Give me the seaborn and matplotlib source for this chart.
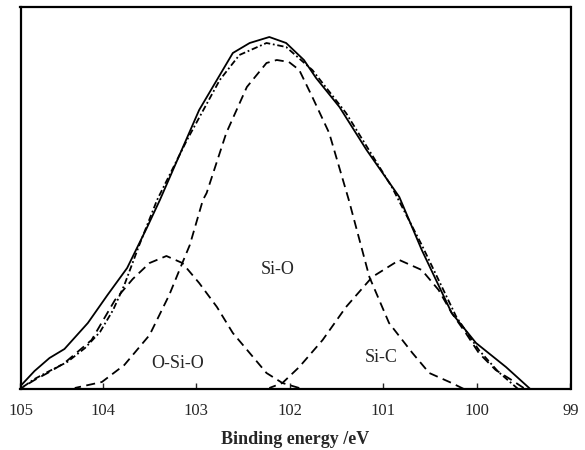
from matplotlib import pyplot as plt
import pandas as pd
import seaborn as sns

sns.set_style("ticks")
plt.rcParams['font.family'] = ['Liberation Serif', 'DejaVu Serif']

# binding energy (eV) / intensity (a.u.)

# measured spectrum (solid)
exp_be = [104.88, 104.73, 104.57, 104.41, 104.16, 103.95, 103.74, 103.53, 103.39, 103.18,
          102.97, 102.61, 102.43, 102.22, 102.04, 101.85, 101.72, 101.47, 101.18, 100.83,
          100.59, 100.27, 100.01, 99.69, 99.43]
exp_int = [3, 18, 31, 40, 66, 94, 121, 161, 189, 234,
           279, 336, 346, 352, 346, 329, 311, 282, 239, 192,
           139, 76, 46, 22, 0]

# fitted envelope (dash-dot)
fit_be = [104.87, 104.73, 104.57, 104.38, 104.19, 104.03, 103.89, 103.77, 103.61, 103.42,
          103.10, 102.75, 102.54, 102.25, 102.04, 101.76, 101.40, 100.91, 100.59, 100.22,
          99.98, 99.77, 99.56]
fit_int = [1, 10, 18, 27, 41, 57, 79, 104, 144, 189,
           249, 309, 334, 346, 342, 319, 276, 202, 144, 72,
           39, 17, 0]

# O-Si-O component
osio_be = [104.87, 104.73, 104.59, 104.41, 104.12, 103.87, 103.68, 103.50, 103.32, 103.15,
           102.97, 102.78, 102.61, 102.43, 102.25, 102.08, 101.90]
osio_int = [1, 9, 16, 26, 49, 89, 110, 126, 133, 126,
            106, 82, 56, 36, 16, 6, 1]

# Si-O component
sio_be = [104.30, 104.01, 103.77, 103.50, 103.29, 103.15, 103.07, 102.93, 102.89, 102.68,
          102.46, 102.25, 102.14, 102.01, 101.90, 101.76, 101.58, 101.37, 101.15, 100.94,
          100.69, 100.51, 100.27, 100.14]
sio_int = [1, 7, 24, 54, 94, 126, 144, 189, 196, 256,
           302, 326, 329, 327, 319, 292, 256, 189, 112, 66,
           36, 16, 6, 0]

# Si-C component
sic_be = [102.22, 102.08, 101.90, 101.65, 101.40, 101.12, 100.83, 100.59, 100.41, 100.27,
          100.12, 99.98, 99.80, 99.63, 99.50]
sic_int = [1, 6, 22, 49, 82, 112, 129, 119, 99, 76,
           56, 36, 19, 9, 1]

peak_names = ['O-Si-O', 'Si-O', 'Si-C']
peak_label_be = [103.20, 102.13, 101.02]
peak_label_int = [25, 119, 32]

tick_pos = [104.88, 104, 103, 102, 101, 100, 99.0]
tick_text = ['105', '104', '103', '102', '101', '100', '99']

fig = plt.figure(figsize=(5.85, 4.5), dpi=100)
ax = fig.add_axes([20.5 / 585, 61 / 450, 550 / 585, 382 / 450])

dash = (0, (5, 3))
curves = [
    (exp_be, exp_int, '-'),
    (fit_be, fit_int, (0, (3.5, 1.5, 1, 1.5))),
    (osio_be, osio_int, dash),
    (sio_be, sio_int, dash),
    (sic_be, sic_int, dash),
]
for be, inten, ls in curves:
    df = pd.DataFrame({'be': be, 'int': inten})
    sns.lineplot(data=df, x='be', y='int', ax=ax, color='black', linewidth=1.3,
                 linestyle=ls, estimator=None, sort=True)

for name, bx, by in zip(peak_names, peak_label_be, peak_label_int):
    ax.text(bx, by, name, ha='center', va='center', fontsize=13)

ax.set_xlim(104.88, 99.0)
ax.set_ylim(0, 382)
ax.set_xticks(tick_pos)
ax.set_xticklabels(tick_text, fontsize=12)
ax.set_yticks([])
ax.tick_params(axis='x', direction='in', length=4, width=1, pad=10)
ax.set_xlabel('Binding energy /eV', fontsize=13, fontweight='bold', labelpad=9)
ax.set_ylabel('')
for sp in ax.spines.values():
    sp.set_linewidth(1.6)
    sp.set_color('black')

plt.savefig('out.png', dpi=100)
